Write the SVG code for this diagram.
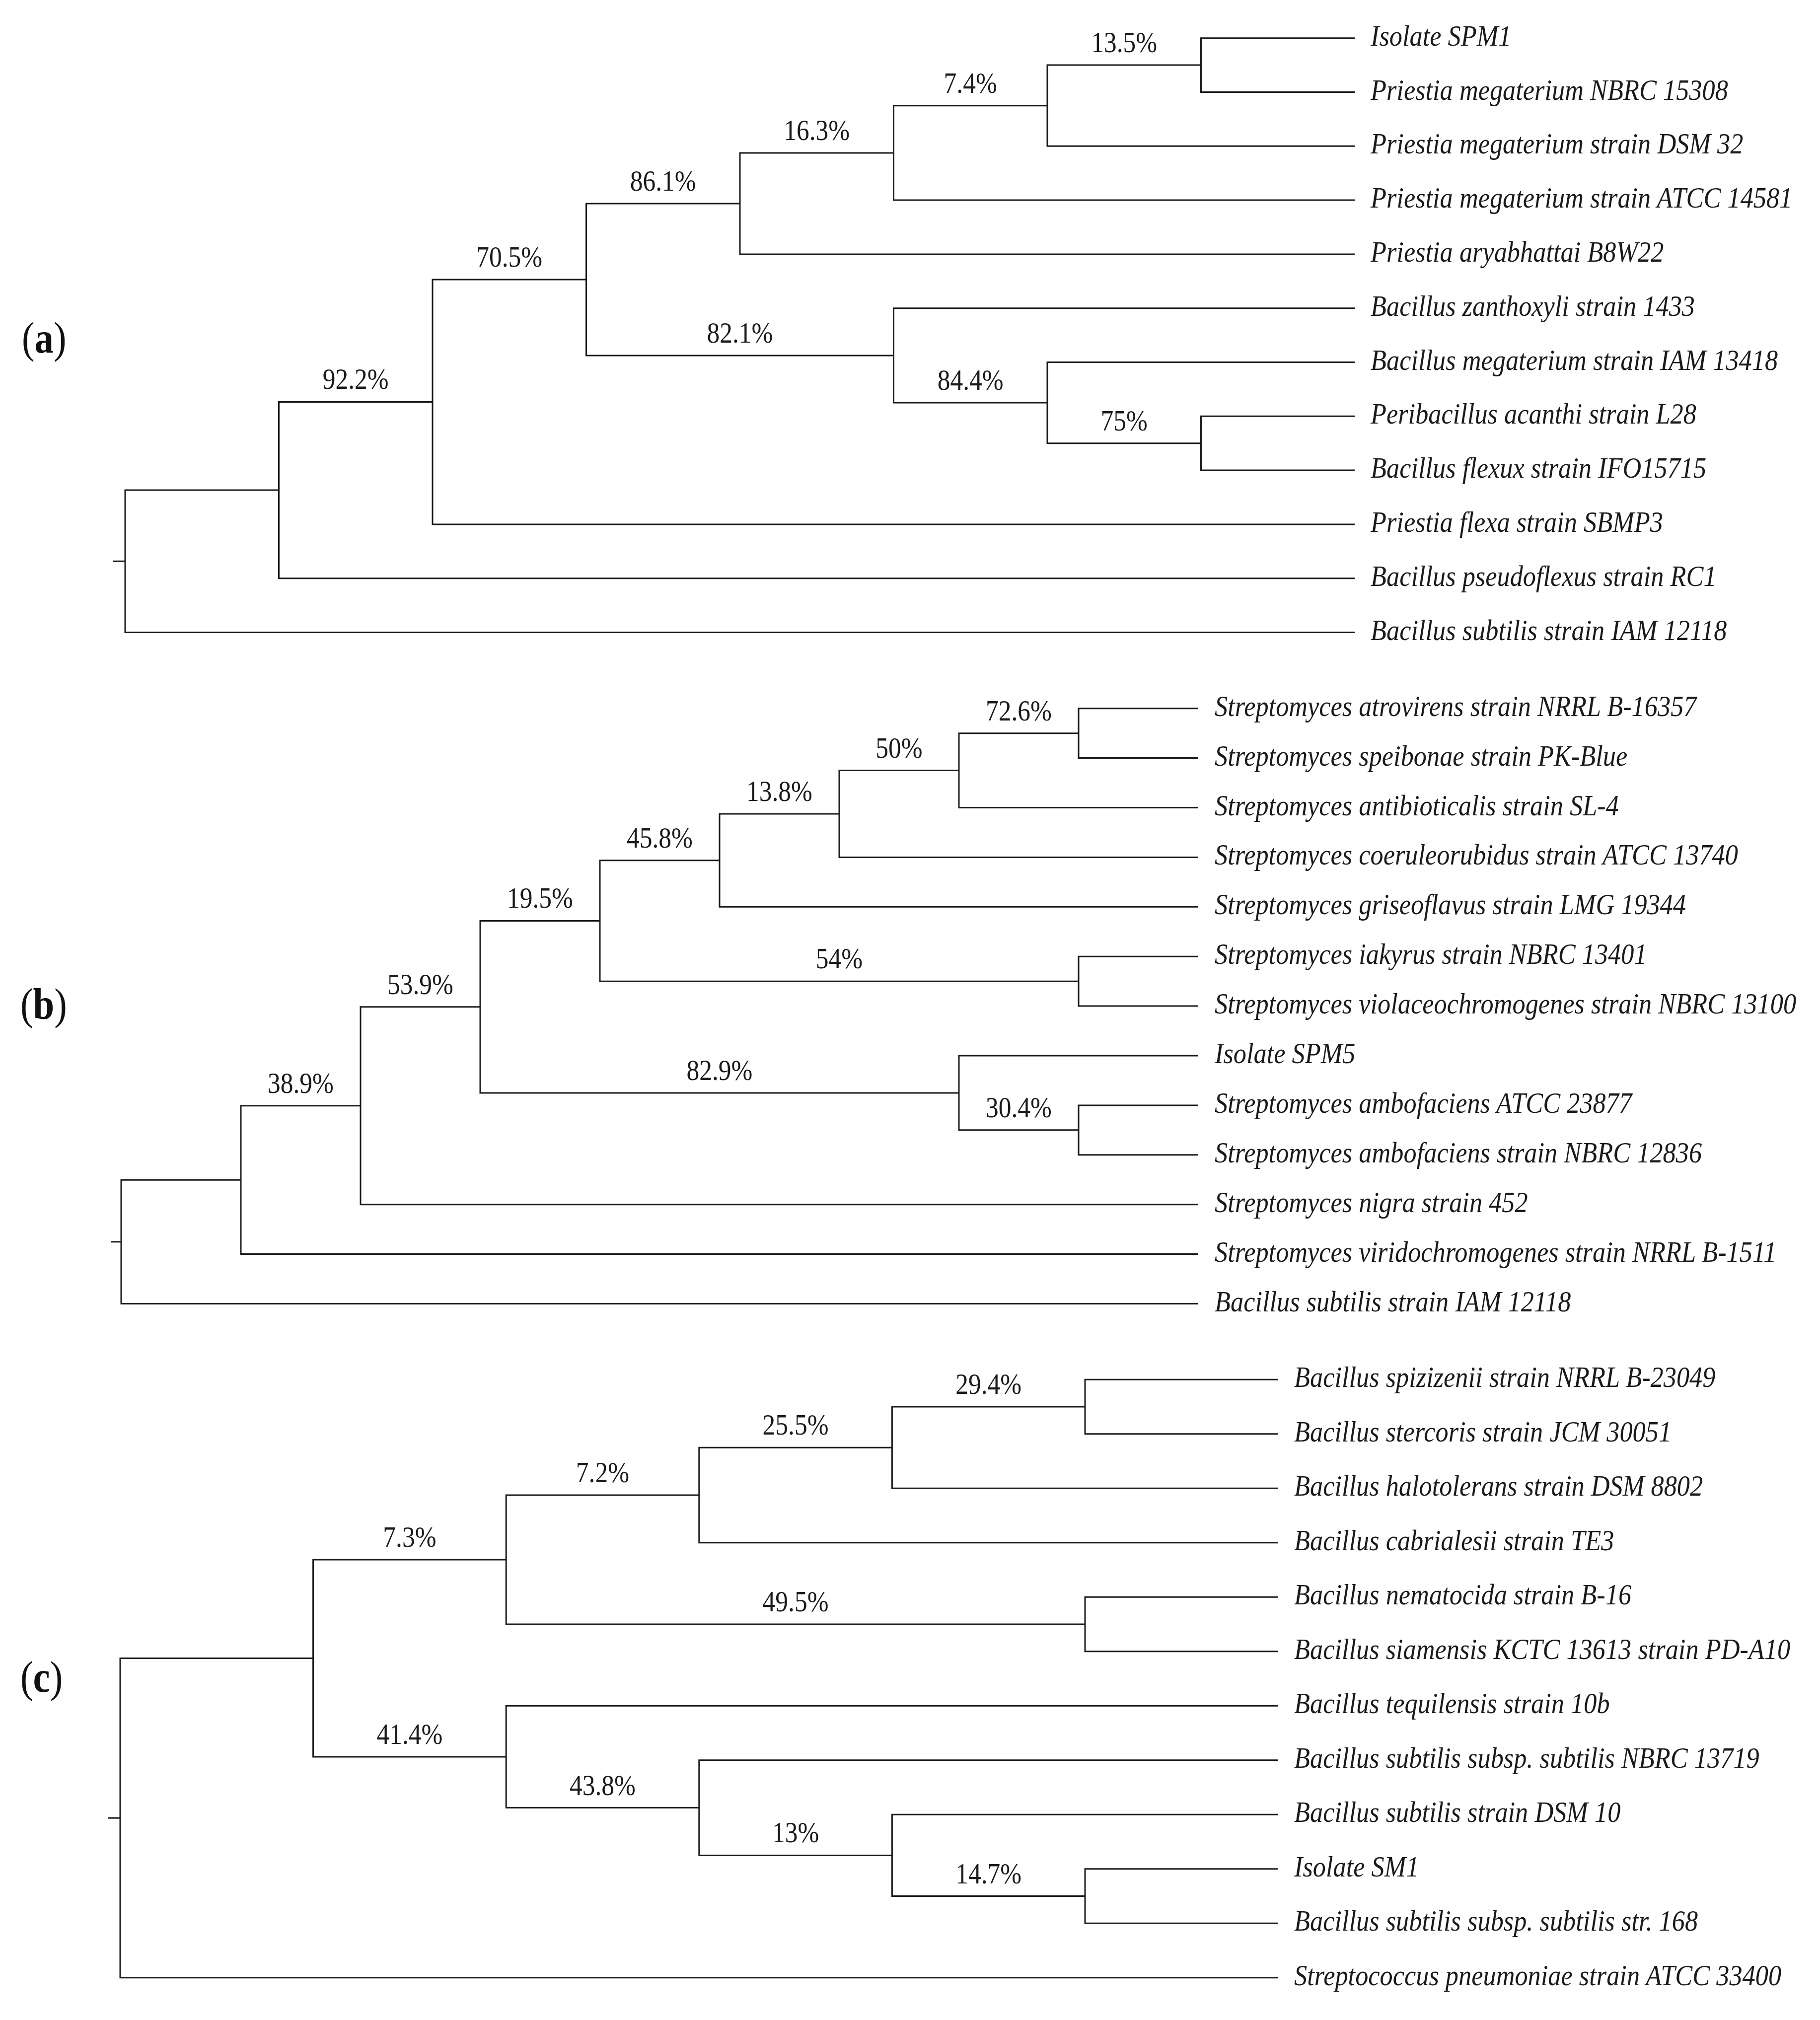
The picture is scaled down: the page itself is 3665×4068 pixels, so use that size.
<svg xmlns="http://www.w3.org/2000/svg" width="3665" height="4068" viewBox="0 0 3665 4068">
<style>
.bg{fill:#ffffff}
.br{fill:none;stroke:#1a1a1a;stroke-width:3;stroke-linejoin:miter;stroke-linecap:butt}
.leaf{font-family:"Liberation Serif","Times New Roman",serif;font-style:italic;font-size:60px;fill:#1a1a1a}
.bs{font-family:"Liberation Serif","Times New Roman",serif;font-size:59px;fill:#1a1a1a;text-anchor:middle}
.pl{font-family:"Liberation Serif","Times New Roman",serif;font-size:88px;fill:#111111}
.pl tspan.b{font-weight:bold}
</style>
<rect class="bg" x="0" y="0" width="3665" height="4068"/>

<g id="connectors">
  <g id="connectors-a" class="br">
    <path d="M2728,76.7 H2418.5 V185.5 H2728"/>
    <path d="M2418.5,131.1 H2109 V294.3 H2728"/>
    <path d="M2109,212.7 H1799.5 V403.1 H2728"/>
    <path d="M1799.5,307.9 H1490 V511.9 H2728"/>
    <path d="M2728,838.3 H2418.5 V947.1 H2728"/>
    <path d="M2728,729.5 H2109 V892.7 H2418.5"/>
    <path d="M2728,620.7 H1799.5 V811.1 H2109"/>
    <path d="M1490,409.9 H1180.5 V715.9 H1799.5"/>
    <path d="M1180.5,562.9 H871 V1055.9 H2728"/>
    <path d="M871,809.4 H561.5 V1164.7 H2728"/>
    <path d="M561.5,987.05 H252 V1273.5 H2728"/>
    <path d="M228,1130.3 H252"/>
  </g>
  <g id="connectors-b" class="br">
    <path d="M2413,1426.7 H2172 V1526.6 H2413"/>
    <path d="M2172,1476.65 H1931 V1626.5 H2413"/>
    <path d="M1931,1551.58 H1690 V1726.4 H2413"/>
    <path d="M1690,1639 H1449 V1826.3 H2413"/>
    <path d="M2413,1926.2 H2172 V2026.1 H2413"/>
    <path d="M1449,1732.65 H1208 V1976.15 H2172"/>
    <path d="M2413,2225.9 H2172 V2325.8 H2413"/>
    <path d="M2413,2126 H1931 V2275.85 H2172"/>
    <path d="M1208,1854.4 H967 V2200.93 H1931"/>
    <path d="M967,2027.67 H726 V2425.7 H2413"/>
    <path d="M726,2226.68 H485 V2525.6 H2413"/>
    <path d="M485,2376.14 H244 V2625.5 H2413"/>
    <path d="M223,2500.82 H244"/>
  </g>
  <g id="connectors-c" class="br">
    <path d="M2573.6,2778.3 H2185 V2887.8 H2573.6"/>
    <path d="M2185,2833.05 H1796.4 V2997.3 H2573.6"/>
    <path d="M1796.4,2915.18 H1407.8 V3106.8 H2573.6"/>
    <path d="M2573.6,3216.3 H2185 V3325.8 H2573.6"/>
    <path d="M1407.8,3011 H1019.2 V3271.05 H2185"/>
    <path d="M2573.6,3763.8 H2185 V3873.3 H2573.6"/>
    <path d="M2573.6,3654.3 H1796.4 V3818.55 H2185"/>
    <path d="M2573.6,3544.8 H1407.8 V3736.43 H1796.4"/>
    <path d="M2573.6,3435.3 H1019.2 V3640.6 H1407.8"/>
    <path d="M1019.2,3141.02 H630.6 V3537.95 H1019.2"/>
    <path d="M630.6,3339.49 H242 V3982.8 H2573.6"/>
    <path d="M217,3661.15 H242"/>
  </g>
</g>

<g id="panel-labels">
  <text id="label-a" class="pl" transform="translate(44 710) scale(0.873 1)">(<tspan class="b">a</tspan>)</text>
  <text id="label-b" class="pl" transform="translate(41 2052) scale(0.873 1)">(<tspan class="b">b</tspan>)</text>
  <text id="label-c" class="pl" transform="translate(41 3407) scale(0.873 1)">(<tspan class="b">c</tspan>)</text>
</g>

<g id="tree-a">
  <g id="a-leaf-1"><text class="leaf" transform="translate(2760 91.7) scale(0.873 1)">Isolate SPM1</text></g>
  <g id="a-leaf-2"><text class="leaf" transform="translate(2760 200.5) scale(0.873 1)">Priestia megaterium NBRC 15308</text></g>
  <g id="a-leaf-3"><text class="leaf" transform="translate(2760 309.3) scale(0.873 1)">Priestia megaterium strain DSM 32</text></g>
  <g id="a-leaf-4"><text class="leaf" transform="translate(2760 418.1) scale(0.873 1)">Priestia megaterium strain ATCC 14581</text></g>
  <g id="a-leaf-5"><text class="leaf" transform="translate(2760 526.9) scale(0.873 1)">Priestia aryabhattai B8W22</text></g>
  <g id="a-leaf-6"><text class="leaf" transform="translate(2760 635.7) scale(0.873 1)">Bacillus zanthoxyli strain 1433</text></g>
  <g id="a-leaf-7"><text class="leaf" transform="translate(2760 744.5) scale(0.873 1)">Bacillus megaterium strain IAM 13418</text></g>
  <g id="a-leaf-8"><text class="leaf" transform="translate(2760 853.3) scale(0.873 1)">Peribacillus acanthi strain L28</text></g>
  <g id="a-leaf-9"><text class="leaf" transform="translate(2760 962.1) scale(0.873 1)">Bacillus flexux strain IFO15715</text></g>
  <g id="a-leaf-10"><text class="leaf" transform="translate(2760 1070.9) scale(0.873 1)">Priestia flexa strain SBMP3</text></g>
  <g id="a-leaf-11"><text class="leaf" transform="translate(2760 1179.7) scale(0.873 1)">Bacillus pseudoflexus strain RC1</text></g>
  <g id="a-leaf-12"><text class="leaf" transform="translate(2760 1288.5) scale(0.873 1)">Bacillus subtilis strain IAM 12118</text></g>
  <g id="a-node-135"><text class="bs" transform="translate(2263.75 105.1) scale(0.873 1)">13.5%</text></g>
  <g id="a-node-74"><text class="bs" transform="translate(1954.25 186.7) scale(0.873 1)">7.4%</text></g>
  <g id="a-node-163"><text class="bs" transform="translate(1644.75 281.9) scale(0.873 1)">16.3%</text></g>
  <g id="a-node-861"><text class="bs" transform="translate(1335.25 383.9) scale(0.873 1)">86.1%</text></g>
  <g id="a-node-75"><text class="bs" transform="translate(2263.75 866.7) scale(0.873 1)">75%</text></g>
  <g id="a-node-844"><text class="bs" transform="translate(1954.25 785.1) scale(0.873 1)">84.4%</text></g>
  <g id="a-node-821"><text class="bs" transform="translate(1490 689.9) scale(0.873 1)">82.1%</text></g>
  <g id="a-node-705"><text class="bs" transform="translate(1025.75 536.9) scale(0.873 1)">70.5%</text></g>
  <g id="a-node-922"><text class="bs" transform="translate(716.25 783.4) scale(0.873 1)">92.2%</text></g>
</g>

<g id="tree-b">
  <g id="b-leaf-1"><text class="leaf" transform="translate(2446 1441.7) scale(0.873 1)">Streptomyces atrovirens strain NRRL B-16357</text></g>
  <g id="b-leaf-2"><text class="leaf" transform="translate(2446 1541.6) scale(0.873 1)">Streptomyces speibonae strain PK-Blue</text></g>
  <g id="b-leaf-3"><text class="leaf" transform="translate(2446 1641.5) scale(0.873 1)">Streptomyces antibioticalis strain SL-4</text></g>
  <g id="b-leaf-4"><text class="leaf" transform="translate(2446 1741.4) scale(0.873 1)">Streptomyces coeruleorubidus strain ATCC 13740</text></g>
  <g id="b-leaf-5"><text class="leaf" transform="translate(2446 1841.3) scale(0.873 1)">Streptomyces griseoflavus strain LMG 19344</text></g>
  <g id="b-leaf-6"><text class="leaf" transform="translate(2446 1941.2) scale(0.873 1)">Streptomyces iakyrus strain NBRC 13401</text></g>
  <g id="b-leaf-7"><text class="leaf" transform="translate(2446 2041.1) scale(0.873 1)">Streptomyces violaceochromogenes strain NBRC 13100</text></g>
  <g id="b-leaf-8"><text class="leaf" transform="translate(2446 2141) scale(0.873 1)">Isolate SPM5</text></g>
  <g id="b-leaf-9"><text class="leaf" transform="translate(2446 2240.9) scale(0.873 1)">Streptomyces ambofaciens ATCC 23877</text></g>
  <g id="b-leaf-10"><text class="leaf" transform="translate(2446 2340.8) scale(0.873 1)">Streptomyces ambofaciens strain NBRC 12836</text></g>
  <g id="b-leaf-11"><text class="leaf" transform="translate(2446 2440.7) scale(0.873 1)">Streptomyces nigra strain 452</text></g>
  <g id="b-leaf-12"><text class="leaf" transform="translate(2446 2540.6) scale(0.873 1)">Streptomyces viridochromogenes strain NRRL B-1511</text></g>
  <g id="b-leaf-13"><text class="leaf" transform="translate(2446 2640.5) scale(0.873 1)">Bacillus subtilis strain IAM 12118</text></g>
  <g id="b-node-726"><text class="bs" transform="translate(2051.5 1450.65) scale(0.873 1)">72.6%</text></g>
  <g id="b-node-50"><text class="bs" transform="translate(1810.5 1525.6) scale(0.873 1)">50%</text></g>
  <g id="b-node-138"><text class="bs" transform="translate(1569.5 1613) scale(0.873 1)">13.8%</text></g>
  <g id="b-node-458"><text class="bs" transform="translate(1328.5 1706.65) scale(0.873 1)">45.8%</text></g>
  <g id="b-node-54"><text class="bs" transform="translate(1690 1950.15) scale(0.873 1)">54%</text></g>
  <g id="b-node-195"><text class="bs" transform="translate(1087.5 1828.4) scale(0.873 1)">19.5%</text></g>
  <g id="b-node-304"><text class="bs" transform="translate(2051.5 2249.85) scale(0.873 1)">30.4%</text></g>
  <g id="b-node-829"><text class="bs" transform="translate(1449 2174.9) scale(0.873 1)">82.9%</text></g>
  <g id="b-node-539"><text class="bs" transform="translate(846.5 2001.67) scale(0.873 1)">53.9%</text></g>
  <g id="b-node-389"><text class="bs" transform="translate(605.5 2200.7) scale(0.873 1)">38.9%</text></g>
</g>

<g id="tree-c">
  <g id="c-leaf-1"><text class="leaf" transform="translate(2606 2793.3) scale(0.873 1)">Bacillus spizizenii strain NRRL B-23049</text></g>
  <g id="c-leaf-2"><text class="leaf" transform="translate(2606 2902.8) scale(0.873 1)">Bacillus stercoris strain JCM 30051</text></g>
  <g id="c-leaf-3"><text class="leaf" transform="translate(2606 3012.3) scale(0.873 1)">Bacillus halotolerans strain DSM 8802</text></g>
  <g id="c-leaf-4"><text class="leaf" transform="translate(2606 3121.8) scale(0.873 1)">Bacillus cabrialesii strain TE3</text></g>
  <g id="c-leaf-5"><text class="leaf" transform="translate(2606 3231.3) scale(0.873 1)">Bacillus nematocida strain B-16</text></g>
  <g id="c-leaf-6"><text class="leaf" transform="translate(2606 3340.8) scale(0.873 1)">Bacillus siamensis KCTC 13613 strain PD-A10</text></g>
  <g id="c-leaf-7"><text class="leaf" transform="translate(2606 3450.3) scale(0.873 1)">Bacillus tequilensis strain 10b</text></g>
  <g id="c-leaf-8"><text class="leaf" transform="translate(2606 3559.8) scale(0.873 1)">Bacillus subtilis subsp. subtilis NBRC 13719</text></g>
  <g id="c-leaf-9"><text class="leaf" transform="translate(2606 3669.3) scale(0.873 1)">Bacillus subtilis strain DSM 10</text></g>
  <g id="c-leaf-10"><text class="leaf" transform="translate(2606 3778.8) scale(0.873 1)">Isolate SM1</text></g>
  <g id="c-leaf-11"><text class="leaf" transform="translate(2606 3888.3) scale(0.873 1)">Bacillus subtilis subsp. subtilis str. 168</text></g>
  <g id="c-leaf-12"><text class="leaf" transform="translate(2606 3997.8) scale(0.873 1)">Streptococcus pneumoniae strain ATCC 33400</text></g>
  <g id="c-node-294"><text class="bs" transform="translate(1990.7 2807.05) scale(0.873 1)">29.4%</text></g>
  <g id="c-node-255"><text class="bs" transform="translate(1602.1 2889.2) scale(0.873 1)">25.5%</text></g>
  <g id="c-node-72"><text class="bs" transform="translate(1213.5 2985) scale(0.873 1)">7.2%</text></g>
  <g id="c-node-495"><text class="bs" transform="translate(1602.1 3245.05) scale(0.873 1)">49.5%</text></g>
  <g id="c-node-73"><text class="bs" transform="translate(824.9 3115) scale(0.873 1)">7.3%</text></g>
  <g id="c-node-147"><text class="bs" transform="translate(1990.7 3792.55) scale(0.873 1)">14.7%</text></g>
  <g id="c-node-13"><text class="bs" transform="translate(1602.1 3710.4) scale(0.873 1)">13%</text></g>
  <g id="c-node-438"><text class="bs" transform="translate(1213.5 3614.6) scale(0.873 1)">43.8%</text></g>
  <g id="c-node-414"><text class="bs" transform="translate(824.9 3512) scale(0.873 1)">41.4%</text></g>
</g>
</svg>
